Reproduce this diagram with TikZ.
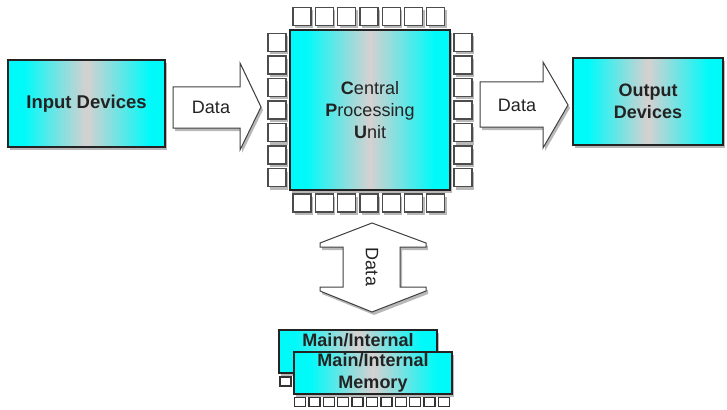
\documentclass[tikz,border=0pt]{standalone}
\usepackage{fontspec}
\setmainfont{Liberation Sans}
\usetikzlibrary{shadows}
\definecolor{cy}{RGB}{0,250,250}
\definecolor{cyl}{RGB}{110,228,228}
\definecolor{midc}{RGB}{214,208,208}
\definecolor{ink}{RGB}{35,35,35}
\pgfdeclarehorizontalshading{devshade}{100bp}{color(0bp)=(cy); color(30bp)=(cy); color(40bp)=(cyl); color(50bp)=(midc); color(60bp)=(cyl); color(70bp)=(cy); color(100bp)=(cy)}
\begin{document}
\begin{tikzpicture}[x=1pt,y=-1pt,
  shad/.style={drop shadow={shadow xshift=2pt,shadow yshift=-3pt,opacity=0.28,fill=black}},
  devbox/.style={draw=ink,line width=1.3pt,shading=devshade,shad,
     inner sep=0pt,text=ink,font=\fontsize{18}{22}\selectfont,align=center},
  pin/.style={draw=black!70,fill=white,line width=1.2pt,minimum width=18pt,minimum height=18pt,inner sep=0pt,shad},
  mpin/.style={draw=black!80,fill=white,line width=1.4pt,minimum width=11pt,minimum height=9pt,inner sep=0pt},
  bigarrow/.style={draw=black!75,fill=white,line width=1pt,line join=miter,shad},
  lbl/.style={text=ink,font=\fontsize{18}{22}\selectfont,inner sep=0pt}]
\useasboundingbox (0,0) rectangle (727,409);
\fill[white] (0,0) rectangle (727,409);

% pins of the CPU
\foreach \i in {0,...,6}{
  \node[pin] (pt\i) at ({302+22.3*\i},16.5) {};
  \node[pin] (pb\i) at ({302+22.3*\i},203) {};
  \node[pin] (pl\i) at (277,{110+22.5*(\i-3)}) {};
  \node[pin] (pr\i) at (463,{110+22.5*(\i-3)}) {};
}
% CPU
\node[devbox,minimum width=160pt,minimum height=160pt] (cpu) at (370,110)
  {\textbf{C}entral\\\textbf{P}rocessing\\\textbf{U}nit};

% input / output
\node[devbox,minimum width=157pt,minimum height=87pt,font=\fontsize{18.5}{22}\selectfont\bfseries] (in) at (86.5,103.5) {Input Devices};
\node[devbox,minimum width=150pt,minimum height=87pt,font=\fontsize{18}{22}\selectfont\bfseries] (out) at (648,101.5) {Output\\Devices};

% arrows
\coordinate (a1) at (173,107);
\coordinate (a2) at (480,105);
\draw[bigarrow] (a1) ++(0,-20) -- ++(67,0) -- ++(0,-24) -- ++(21,44) -- ++(-21,43) -- ++(0,-22) -- ++(-67,0) -- cycle;
\node[lbl] (d1) at (211,107) {Data};
\draw[bigarrow] (a2) ++(0,-23) -- ++(63,0) -- ++(0,-20) -- ++(25,43) -- ++(-25,43) -- ++(0,-21) -- ++(-63,0) -- cycle;
\node[lbl] (d2) at (517,105) {Data};

\coordinate (v) at (372,223);
\draw[bigarrow] (v) -- ++(54,20) -- ++(0,4) -- ++(-26,0) -- ++(0,40) -- ++(26,0) -- ++(0,4) -- ++(-54,21)
  -- ++(-52,-21) -- ++(0,-4) -- ++(23,0) -- ++(0,-40) -- ++(-23,0) -- ++(0,-4) -- cycle;
\node[lbl,rotate=-90] (d3) at (372,267) {Data};

% memory
\node[devbox,minimum width=158pt,minimum height=43pt] (mem1) at (358,351.5) {};
\node[lbl,font=\fontsize{18}{22}\selectfont\bfseries] (m1t) at (358,340) {Main/Internal};
\foreach \i in {0,...,10}{
  \node[mpin] (mb\i) at ({285.5+14.4*\i},381.5) {};
}
\node[devbox,minimum width=158pt,minimum height=42pt,font=\fontsize{18}{22}\selectfont\bfseries] (mem2) at (373,373) {Main/Internal\\Memory};
\foreach \i in {0,...,10}{
  \node[mpin] (mf\i) at ({300+14.4*\i},402) {};
}
\end{tikzpicture}
\end{document}
